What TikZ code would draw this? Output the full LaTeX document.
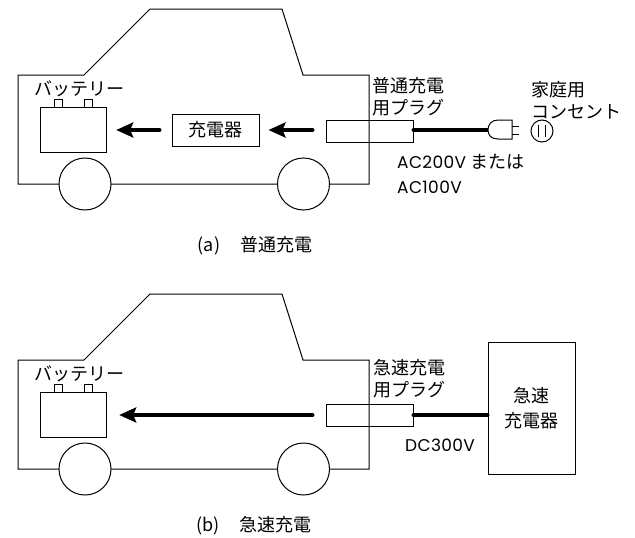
\documentclass[tikz,border=0pt]{standalone}
\usepackage{fontspec}
\setmainfont{Noto Sans CJK JP}
\newfontfamily\latinfont[LetterSpace=2]{Poppins}
\usetikzlibrary{arrows.meta}

\tikzset{
  box/.style={draw, line width=1pt, inner sep=0pt},
  jp/.style={font=\fontsize{18}{22}\selectfont, inner sep=0pt},
  volt/.style={font=\latinfont\fontsize{17}{22}\selectfont, inner sep=0pt},
  flow/.style={line width=4pt, line cap=round,
    -{Stealth[length=17pt,width=15pt,inset=3pt]}},
  cable/.style={line width=4pt, line cap=round},
  % car body, wheels and battery, origin at the top-left of the drawing area
  car/.pic={
    \draw[line width=1pt, line join=miter]
      (18,75) -- (84,75) -- (150,9) -- (282,9) -- (303,75) -- (369,75)
      -- (369,184) -- (18,184) -- cycle;
    \draw[line width=1pt, fill=white] (85,184) circle[radius=26];
    \draw[line width=1pt, fill=white] (303.5,184) circle[radius=26];
    \node[box, minimum width=66pt, minimum height=45pt] (-batt) at (73.7,129.5) {};
    \node[box, minimum size=8pt] (-termL) at (58,103) {};
    \node[box, minimum size=8pt] (-termR) at (88.5,103) {};
    \node[jp] (-battlabel) at (79.5,88.5) {バッテリー};
  }
}

\begin{document}
\begin{tikzpicture}[x=1pt, y=-1pt]
\useasboundingbox (0,0) rectangle (635,538);

% ---------- (a) normal charging ----------
\pic (a) at (0,0) {car};
\node[box, jp, minimum width=87pt, minimum height=32pt] (chgA) at (215.5,130) {充電器};
\node[box, minimum width=87pt, minimum height=22pt] (plugA) at (369.5,131) {};
\node[jp, align=left, anchor=west] (plugAlabel) at (372,96.5) {普通充電\\用プラグ};

\draw[flow, shorten <=12pt, shorten >=9pt] (chgA.west) -- (chgA.west -| a-batt.east);
\draw[flow, shorten <=13pt, shorten >=9pt] (plugA.west |- chgA.west) -- (chgA.east);

% plug head and cable
\coordinate (headA) at (488,130);
\draw[cable] (plugA.east |- headA) -- (headA);
\draw[line width=1pt, fill=white]
  (512,120) -- (498,120) .. controls (491,120) and (488,125) .. (488,130)
  .. controls (488,135) and (491,139) .. (498,139) -- (512,139) -- cycle;
\draw[line width=1pt] (512,126) -- (519,126) (512,134) -- (519,134);

% wall socket
\node[draw, line width=1pt, circle, minimum size=22pt, inner sep=0pt] (socket) at (542,131) {};
\draw[line width=1pt] ([xshift=-3.5pt,yshift=-6pt]socket.center) -- ([xshift=-3.5pt,yshift=6pt]socket.center)
                      ([xshift=3pt,yshift=-6pt]socket.center) -- ([xshift=3pt,yshift=6pt]socket.center);
\node[jp, align=left, anchor=west] (socketlabel) at (531,100.5) {家庭用\\コンセント};

% supply voltage
\node[volt, anchor=base west] (acA1) at (397,168) {AC200V {\fontspec{Noto Sans CJK JP}\fontsize{18}{22}\selectfont または}};
\node[volt, anchor=base west] (acA2) at (397,193) {AC100V};

\node[jp] (capA) at (255,245.5) {(a)\hspace{20pt}普通充電};

% ---------- (b) quick charging ----------
\pic (b) at (0,285) {car};
\node[box, minimum width=87pt, minimum height=22pt] (plugB) at (369.5,415) {};
\node[jp, align=left, anchor=west] (plugBlabel) at (373,379) {急速充電\\用プラグ};
\node[box, align=center, minimum width=87pt, minimum height=132pt,
      font=\fontsize{18}{25}\selectfont] (fast) at (531.5,408) {急速\\充電器};

\draw[flow, shorten <=13pt, shorten >=12pt] (plugB.west) -- (plugB.west -| b-batt.east);
\draw[cable] (plugB.east) -- (plugB.east -| fast.west);

\node[volt, anchor=base west] (dcB) at (405,451) {DC300V};

\node[jp] (capB) at (254,525.5) {(b)\hspace{20pt}急速充電};

\end{tikzpicture}
\end{document}
